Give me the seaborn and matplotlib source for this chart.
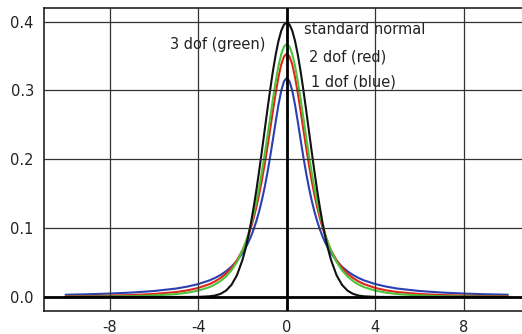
import matplotlib
matplotlib.use("Agg")
import matplotlib.pyplot as plt
import seaborn as sns
import pandas as pd

# Sample positions and density values for each curve
x = [-10, -9, -8, -7, -6, -5, -4.5, -4, -3.5, -3.25, -3, -2.75, -2.5, -2.25, -2,
     -1.875, -1.75, -1.625, -1.5, -1.375, -1.25, -1.125, -1, -0.875, -0.75, -0.625,
     -0.5, -0.375, -0.25, -0.125,
     0,
     0.125, 0.25, 0.375, 0.5, 0.625, 0.75, 0.875, 1, 1.125, 1.25, 1.375, 1.5, 1.625,
     1.75, 1.875, 2, 2.25, 2.5, 2.75, 3, 3.25, 3.5, 4, 4.5, 5, 6, 7, 8, 9, 10]

normal = [0.0, 0.0, 0.0, 0.0, 0.0, 0.0, 0.0, 0.0001, 0.0009, 0.0020, 0.0044, 0.0091,
          0.0175, 0.0317, 0.0540, 0.0688, 0.0863, 0.1065, 0.1295, 0.1550, 0.1826, 0.2119,
          0.2420, 0.2721, 0.3011, 0.3282, 0.3521, 0.3719, 0.3867, 0.3958,
          0.3989,
          0.3958, 0.3867, 0.3719, 0.3521, 0.3282, 0.3011, 0.2721, 0.2420, 0.2119, 0.1826,
          0.1550, 0.1295, 0.1065, 0.0863, 0.0688, 0.0540, 0.0317, 0.0175, 0.0091, 0.0044,
          0.0020, 0.0009, 0.0001, 0.0, 0.0, 0.0, 0.0, 0.0, 0.0, 0.0]

dof1 = [0.0032, 0.0039, 0.0049, 0.0064, 0.0086, 0.0122, 0.0150, 0.0187, 0.0240, 0.0275,
        0.0318, 0.0372, 0.0439, 0.0525, 0.0637, 0.0705, 0.0784, 0.0874, 0.0979, 0.1101,
        0.1242, 0.1405, 0.1592, 0.1803, 0.2037, 0.2289, 0.2546, 0.2791, 0.2996, 0.3134,
        0.3183,
        0.3134, 0.2996, 0.2791, 0.2546, 0.2289, 0.2037, 0.1803, 0.1592, 0.1405, 0.1242,
        0.1101, 0.0979, 0.0874, 0.0784, 0.0705, 0.0637, 0.0525, 0.0439, 0.0372, 0.0318,
        0.0275, 0.0240, 0.0187, 0.0150, 0.0122, 0.0086, 0.0064, 0.0049, 0.0039, 0.0032]

dof2 = [0.0010, 0.0013, 0.0019, 0.0028, 0.0043, 0.0071, 0.0095, 0.0131, 0.0186, 0.0225,
        0.0274, 0.0338, 0.0422, 0.0533, 0.0680, 0.0772, 0.0878, 0.1000, 0.1141, 0.1303,
        0.1487, 0.1695, 0.1925, 0.2174, 0.2438, 0.2705, 0.2963, 0.3193, 0.3376, 0.3494,
        0.3536,
        0.3494, 0.3376, 0.3193, 0.2963, 0.2705, 0.2438, 0.2174, 0.1925, 0.1695, 0.1487,
        0.1303, 0.1141, 0.1000, 0.0878, 0.0772, 0.0680, 0.0533, 0.0422, 0.0338, 0.0274,
        0.0225, 0.0186, 0.0131, 0.0095, 0.0071, 0.0043, 0.0028, 0.0019, 0.0013, 0.0010]

dof3 = [0.0003, 0.0005, 0.0007, 0.0012, 0.0022, 0.0042, 0.0061, 0.0092, 0.0142, 0.0180,
        0.0230, 0.0297, 0.0387, 0.0509, 0.0675, 0.0779, 0.0900, 0.1040, 0.1200, 0.1383,
        0.1589, 0.1818, 0.2067, 0.2333, 0.2606, 0.2877, 0.3132, 0.3354, 0.3527, 0.3638,
        0.3676,
        0.3638, 0.3527, 0.3354, 0.3132, 0.2877, 0.2606, 0.2333, 0.2067, 0.1818, 0.1589,
        0.1383, 0.1200, 0.1040, 0.0900, 0.0779, 0.0675, 0.0509, 0.0387, 0.0297, 0.0230,
        0.0180, 0.0142, 0.0092, 0.0061, 0.0042, 0.0022, 0.0012, 0.0007, 0.0005, 0.0003]

x_ticks = [-8, -4, 0, 4, 8]
y_ticks = [0.0, 0.1, 0.2, 0.3, 0.4]

sns.set_theme(style="white")
plt.rcParams["font.family"] = ["DejaVu Sans"]

fig = plt.figure(figsize=(5.22, 3.34), dpi=100)
ax = fig.add_axes([43.5 / 522, 23.3 / 334, 486.5 / 522, 302.8 / 334])

series = [("1 dof", dof1, "#2a3fb0"), ("2 dof", dof2, "#e0241c"),
          ("3 dof", dof3, "#4cc43a"), ("normal", normal, "#111111")]
for name, vals, col in series:
    df = pd.DataFrame({"x": x, "density": vals})
    sns.lineplot(data=df, x="x", y="density", color=col, lw=1.5, sort=False,
                 ax=ax, zorder=2)

ax.axvline(0, color="black", lw=2.0, zorder=2.6)
ax.axhline(0, color="black", lw=2.0, zorder=2.6)

ax.set_xlim(-11, 11)
ax.set_ylim(-0.02, 0.42)
ax.set_xticks(x_ticks)
ax.set_xticklabels([f"{t}" for t in x_ticks])
ax.set_yticks(y_ticks)
ax.set_yticklabels([f"{t:.1f}" for t in y_ticks])
ax.set_xlabel("")
ax.set_ylabel("")
ax.tick_params(length=0, labelsize=10.5, colors="#222222", pad=7)

ax.set_axisbelow(False)
ax.grid(True, color="#333333", lw=0.9)

for side in ["left", "top", "bottom"]:
    ax.spines[side].set_color("#222222")
    ax.spines[side].set_linewidth(1.2)
ax.spines["right"].set_visible(False)

txt = dict(fontsize=10.5, color="#222222", va="center", ha="left", zorder=1)
ax.text(-5.3, 0.367, "3 dof (green)", **txt)
ax.text(0.77, 0.388, "standard normal", **txt)
ax.text(1.0, 0.348, "2 dof (red)", **txt)
ax.text(1.08, 0.313, "1 dof (blue)", **txt)

fig.savefig("out.png", dpi=100, facecolor="white")
